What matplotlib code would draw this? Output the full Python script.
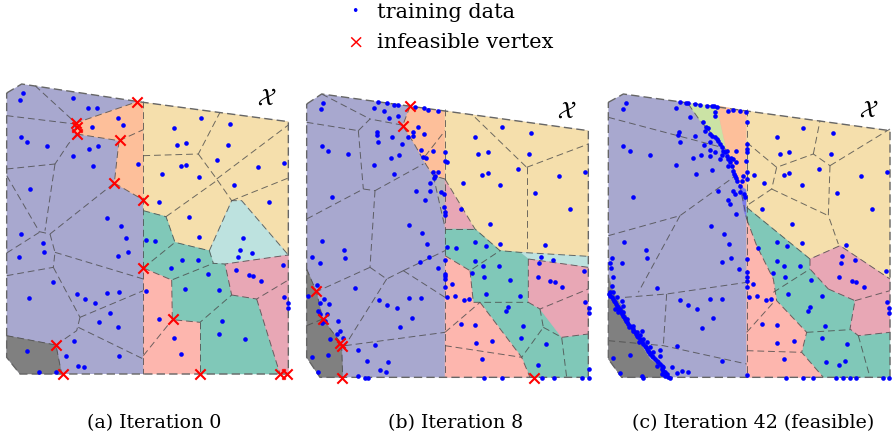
import numpy as np
import matplotlib.pyplot as plt
from matplotlib.patches import Polygon

plt.rcParams['font.family'] = ['DejaVu Serif']
plt.rcParams['mathtext.fontset'] = 'stix'

# colours of the regions
LAV = '#a8a8cf'
ORA = '#fdbf9a'
YEL = '#f5dfac'
CYA = '#bde2df'
TEA = '#80c8b8'
PNK = '#e8a7b5'
SAL = '#fdb6ae'
GRY = '#808080'
GRN = '#cbe3a5'
LGR = '#b5b5ba'
BLU = '#7b7bec'

# ---------------- panel (a) : iteration 0 ----------------
a_domain = [(20, 42), (65, 15), (430, 70), (865, 128), (865, 885), (60, 885), (20, 835)]
a_orange = [(225, 133), (412, 68), (430, 70), (430, 363), (343, 312), (357, 185), (230, 165)]
a_gray = [(20, 770), (168, 798), (185, 885), (60, 885), (20, 835)]
a_yellow = [(430, 70), (865, 128), (865, 528), (725, 365), (695, 365), (628, 515),
            (525, 490), (498, 413), (430, 395)]
a_cyan = [(695, 365), (725, 365), (865, 528), (675, 555), (640, 553), (628, 515)]
a_teal = [(430, 395), (498, 413), (525, 490), (628, 515), (640, 553), (675, 555), (695, 648),
          (770, 660), (840, 885), (600, 885), (600, 730), (517, 722), (515, 603), (430, 567)]
a_pink = [(675, 555), (865, 528), (865, 885), (840, 885), (770, 660), (695, 648)]
a_salmon = [(430, 567), (515, 603), (517, 722), (600, 730), (600, 885), (430, 885)]
a_lines = [
    [(105, 20), (225, 130)], [(20, 110), (225, 135)],
    [(230, 165), (205, 195), (165, 255)], [(20, 270), (165, 255)], [(165, 255), (135, 455)],
    [(20, 290), (118, 458)], [(118, 458), (150, 465), (343, 312)], [(20, 522), (118, 460)],
    [(150, 465), (165, 520), (160, 565)], [(165, 520), (430, 600)], [(20, 590), (160, 565)],
    [(160, 565), (240, 715)], [(240, 715), (430, 635)], [(240, 715), (230, 755), (168, 798)],
    [(235, 745), (430, 840)], [(20, 770), (168, 798), (185, 885)],
    [(225, 133), (412, 68)], [(230, 165), (357, 185), (343, 312), (430, 363)],
    [(357, 185), (430, 152)], [(225, 133), (230, 165)],
    [(430, 65), (430, 885)],
    [(430, 230), (595, 225), (660, 100)], [(595, 225), (650, 300), (695, 365)],
    [(650, 300), (865, 138)], [(695, 365), (865, 297)], [(498, 413), (650, 305)],
    [(430, 395), (498, 413), (525, 490), (628, 515), (695, 365), (725, 365), (865, 528)],
    [(628, 515), (640, 553), (675, 555), (865, 528)],
    [(430, 567), (525, 490)], [(430, 567), (515, 603), (640, 553)],
    [(515, 603), (517, 722), (600, 730), (695, 648), (675, 555)],
    [(695, 648), (770, 660), (865, 603)], [(770, 660), (840, 885)],
    [(600, 730), (600, 885)], [(430, 830), (517, 722)],
]
a_pts = [(68, 42), (60, 62), (220, 58), (263, 88), (290, 86), (355, 116), (368, 137), (275, 145),
         (62, 173), (80, 188), (140, 200), (267, 210), (293, 202), (220, 232), (278, 260),
         (413, 256), (90, 330), (322, 418), (362, 442), (377, 476), (437, 482), (129, 491),
         (132, 518), (63, 466), (56, 535), (355, 530), (385, 518), (160, 610), (86, 657),
         (232, 645), (255, 660), (285, 672), (322, 642), (358, 640), (437, 637), (330, 702),
         (297, 730), (355, 743), (222, 785), (197, 831), (358, 831), (80, 815), (235, 861),
         (253, 864), (117, 880), (168, 880),
         (522, 146), (602, 117), (690, 136), (532, 198), (559, 193), (685, 199), (543, 262),
         (559, 258), (651, 244), (597, 293), (485, 286), (774, 265), (852, 253), (702, 319),
         (477, 368), (807, 369), (567, 414), (597, 474), (465, 487), (730, 477),
         (719, 513), (755, 523), (714, 533), (545, 542), (594, 542), (512, 566), (625, 585),
         (709, 574), (746, 587), (760, 592), (782, 606), (850, 558), (554, 629), (657, 633),
         (851, 653), (863, 672), (863, 687), (478, 719), (667, 725), (523, 777),
         (658, 764), (734, 780), (542, 826)]
a_cross = [(412, 68), (227, 133), (230, 143), (230, 165), (360, 183), (343, 312), (430, 363),
           (430, 567), (520, 720), (168, 798), (190, 885), (600, 885), (840, 885), (862, 885)]

# ---------------- panel (b) : iteration 8 ----------------
b_domain = [(20, 75), (65, 45), (435, 96), (865, 155), (865, 895), (60, 895), (20, 835)]
b_orange = [(330, 82), (435, 96), (435, 300), (400, 290), (380, 260), (340, 190), (308, 140)]
b_lgray = [(400, 290), (435, 300), (435, 445), (420, 380)]
b_pinkt = [(435, 300), (525, 450), (435, 450)]
b_gray = [(20, 570), (50, 640), (68, 720), (125, 795), (128, 895), (60, 895), (20, 835)]
b_yellow = [(435, 96), (865, 155), (865, 532), (660, 520), (600, 515), (525, 450), (435, 300)]
b_cyan = [(660, 520), (865, 532), (865, 565), (685, 540)]
b_teal = [(435, 450), (525, 450), (600, 515), (660, 520), (685, 540), (685, 670), (720, 690),
          (785, 775), (865, 765), (865, 895), (690, 895), (665, 835), (540, 670), (520, 670),
          (510, 575), (435, 530)]
b_pink = [(685, 540), (865, 565), (865, 765), (785, 775), (720, 690), (685, 670)]
b_salmon = [(435, 530), (510, 575), (520, 670), (540, 670), (665, 835), (690, 895), (435, 895)]
b_lines = [
    [(65, 45), (210, 120)], [(20, 130), (175, 155)], [(175, 155), (210, 120), (305, 138)],
    [(175, 155), (190, 330)], [(20, 420), (190, 330), (225, 335)], [(225, 335), (370, 255)],
    [(225, 335), (210, 565)], [(45, 640), (210, 565)], [(210, 565), (260, 600), (310, 575)],
    [(310, 575), (435, 655)], [(310, 575), (435, 515)], [(260, 600), (135, 800)],
    [(135, 800), (435, 760)], [(20, 740), (68, 720)], [(125, 795), (128, 895)],
    [(330, 82), (308, 140), (340, 190), (380, 260), (400, 290), (435, 300)],
    [(375, 232), (435, 155)], [(400, 290), (420, 380), (435, 445)],
    [(20, 570), (50, 640), (68, 720), (125, 795)],
    [(435, 90), (435, 895)],
    [(525, 115), (680, 265)], [(680, 265), (865, 195)], [(680, 265), (680, 515)],
    [(435, 300), (525, 450), (600, 515), (660, 520), (865, 532)],
    [(685, 540), (865, 565)], [(435, 450), (525, 450)],
    [(435, 530), (510, 575), (600, 515)], [(510, 575), (520, 670), (540, 670), (685, 670)],
    [(685, 540), (685, 670), (720, 690), (865, 630)], [(720, 690), (730, 745), (665, 835)],
    [(730, 745), (785, 775), (800, 895)], [(785, 775), (865, 765)],
    [(540, 670), (665, 835), (690, 895)], [(435, 800), (665, 835)], [(435, 760), (540, 670)],
]
b_pts = [(70, 72), (63, 90), (233, 68), (260, 73), (282, 77), (293, 78), (222, 88), (253, 97),
         (267, 117), (293, 112), (345, 85), (372, 88), (385, 92), (415, 97), (232, 160),
         (230, 167), (276, 174), (235, 190), (305, 195), (325, 175), (338, 158), (355, 143),
         (372, 165), (340, 172), (65, 200), (85, 215), (145, 226), (272, 237), (297, 227),
         (222, 257), (282, 285), (362, 212), (370, 233), (377, 238), (400, 215), (398, 280),
         (405, 292), (415, 280), (402, 298), (390, 313), (347, 335), (375, 362), (390, 335),
         (423, 340), (433, 345), (433, 385), (435, 400), (435, 408), (95, 353), (328, 438),
         (365, 463), (380, 495), (67, 487), (132, 512), (136, 537), (37, 535), (60, 553),
         (360, 548), (388, 535), (413, 568), (435, 543), (435, 585), (165, 628), (25, 652),
         (50, 618), (72, 660), (60, 673), (88, 675), (55, 695), (60, 705), (82, 705), (75, 725),
         (65, 733), (115, 725), (237, 662), (260, 677), (290, 688), (328, 658), (364, 658),
         (335, 718), (300, 745), (110, 765), (120, 755), (90, 780), (128, 778), (225, 798),
         (175, 812), (35, 835), (85, 828), (200, 845), (265, 850), (240, 873), (258, 878),
         (55, 880), (175, 892), (195, 897), (205, 897),
         (525, 173), (606, 144), (693, 162), (535, 225), (563, 219), (688, 225), (655, 269),
         (547, 287), (563, 283), (600, 318), (489, 311), (434, 220), (434, 245), (442, 250),
         (777, 290), (856, 278), (706, 343), (810, 391), (482, 390), (570, 436), (525, 488),
         (557, 502), (600, 494), (734, 497), (442, 503), (469, 506), (722, 533), (760, 543),
         (717, 551), (525, 547), (548, 560), (598, 560), (515, 583), (551, 593), (629, 603),
         (713, 593), (750, 605), (764, 609), (786, 624), (853, 576), (434, 590), (434, 600),
         (455, 616), (434, 625), (442, 655), (466, 650), (493, 663), (507, 661), (558, 646),
         (660, 650), (855, 668), (867, 688), (867, 702), (625, 685), (618, 697), (483, 735),
         (525, 737), (670, 742), (662, 777), (737, 795), (527, 791), (577, 786), (546, 839),
         (713, 858), (867, 870), (553, 897), (605, 897), (726, 897), (762, 897), (846, 897),
         (867, 897)]
b_cross = [(330, 82), (308, 142), (48, 637), (68, 720), (120, 792), (125, 800), (125, 897),
           (703, 897)]

# ---------------- panel (c) : iteration 42 ----------------
c_domain = [(25, 70), (70, 45), (440, 96), (870, 155), (870, 895), (65, 895), (25, 840)]
c_green = [(265, 75), (350, 80), (380, 215), (345, 175), (300, 125)]
c_orange = [(350, 80), (440, 96), (440, 330), (420, 320), (380, 215)]
c_blue = [(420, 320), (440, 335), (440, 420), (432, 395)]
c_gray = [(25, 590), (40, 640), (75, 700), (100, 760), (150, 840), (190, 870), (210, 895),
          (65, 895), (25, 840)]
c_yellow = [(440, 96), (870, 155), (870, 600), (720, 500), (630, 540), (440, 385)]
c_teal = [(440, 385), (630, 540), (630, 570), (685, 630), (765, 665), (750, 750), (775, 770),
          (870, 760), (870, 895), (670, 895), (605, 820), (620, 760), (530, 665), (520, 600),
          (470, 500), (440, 420)]
c_pink = [(630, 540), (720, 500), (870, 600), (870, 760), (775, 770), (750, 750), (765, 665),
          (685, 630), (630, 570)]
c_salmon = [(440, 420), (470, 500), (520, 600), (530, 665), (620, 760), (605, 820), (670, 895),
            (440, 895)]
c_lines = [
    [(25, 115), (365, 205)], [(25, 470), (240, 410), (400, 295)], [(240, 410), (115, 640)],
    [(75, 655), (200, 645), (440, 610)], [(200, 645), (190, 800)],
    [(25, 785), (190, 800), (440, 855)],
    [(265, 75), (300, 125), (345, 175), (380, 215), (420, 320), (440, 420)],
    [(440, 90), (440, 895)],
    [(440, 190), (530, 265), (640, 225), (690, 260)], [(530, 265), (515, 330), (440, 380)],
    [(515, 330), (685, 410)], [(640, 225), (660, 125)], [(690, 260), (870, 150)],
    [(690, 260), (685, 410), (715, 495)],
    [(440, 385), (630, 540), (720, 500), (870, 600)], [(630, 540), (630, 570), (685, 630)],
    [(765, 665), (870, 635)], [(685, 630), (765, 665), (750, 750), (775, 770), (870, 760)],
    [(520, 640), (630, 570)], [(440, 420), (470, 500), (520, 600), (530, 665), (620, 760),
                               (605, 820), (670, 895)],
    [(620, 760), (750, 752)], [(775, 770), (810, 895)],
    [(440, 760), (525, 665)], [(440, 815), (605, 820)],
]
c_pts = [(78, 72), (70, 90), (240, 70), (258, 72), (263, 72), (285, 75), (300, 77), (320, 80),
         (335, 82), (342, 82), (350, 85), (228, 88), (270, 115), (237, 160), (235, 167),
         (240, 190), (285, 172), (345, 100), (345, 110), (310, 130), (318, 145), (325, 148),
         (315, 155), (330, 165), (337, 170), (345, 175), (350, 180), (355, 185), (360, 195),
         (365, 205), (370, 215), (375, 220), (380, 230), (385, 240), (390, 250), (395, 262),
         (400, 275), (403, 285), (405, 292), (408, 298), (412, 305), (330, 190), (312, 198),
         (330, 213), (345, 220), (278, 237), (302, 228), (330, 230), (360, 240), (365, 228),
         (380, 215), (392, 237), (383, 262), (400, 240), (407, 250), (337, 272), (287, 285),
         (228, 257), (70, 200), (90, 215), (150, 227), (100, 354), (353, 335), (385, 362),
         (390, 375), (408, 405), (398, 335), (405, 345), (420, 340), (432, 345), (435, 355),
         (420, 320), (425, 305), (430, 290), (440, 300), (440, 280), (437, 246), (440, 218),
         (440, 210), (440, 195), (385, 95), (398, 92), (420, 96), (438, 98), (440, 130),
         (408, 215), (333, 440), (372, 464), (387, 496), (71, 488), (138, 512), (142, 538),
         (35, 538), (30, 552), (65, 553), (33, 568), (40, 595), (365, 549), (392, 538),
         (418, 570), (440, 540), (440, 580), (440, 595), (440, 605), (440, 625), (170, 628),
         (240, 662), (265, 677), (292, 689), (330, 660), (367, 660), (340, 718), (305, 746),
         (230, 800), (180, 813), (38, 837), (90, 828), (180, 832), (215, 863), (265, 878),
         (245, 875), (232, 882), (60, 882), (125, 890), (130, 897), (185, 885), (195, 890),
         (205, 893), (210, 897), (367, 845), (440, 888),
         (28, 645), (30, 650), (35, 655), (40, 660), (42, 665), (45, 670), (48, 675), (50, 680),
         (55, 685), (55, 690), (60, 695), (62, 700), (65, 705), (70, 710), (72, 715), (75, 720),
         (78, 725), (82, 730), (85, 735), (90, 740), (95, 745), (98, 750), (100, 755),
         (105, 760), (108, 765), (110, 770), (115, 775), (120, 780), (122, 785), (125, 790),
         (130, 795), (135, 800), (138, 805), (140, 810), (145, 815), (148, 820), (150, 825),
         (155, 830), (160, 835), (165, 840), (170, 845), (175, 850), (180, 855), (185, 860),
         (190, 865), (185, 870), (190, 875), (195, 880), (200, 885), (60, 690), (70, 700),
         (80, 720), (88, 745), (100, 742), (112, 760), (120, 768), (125, 755), (130, 780),
         (118, 790), (140, 790), (150, 805), (160, 820), (170, 860), (35, 620), (40, 640),
         (50, 655), (65, 665), (70, 680), (45, 690), (55, 700), (30, 640),
         (610, 146), (698, 162), (530, 173), (540, 224), (568, 219), (693, 226), (658, 269),
         (552, 287), (568, 283), (605, 317), (493, 311), (463, 289), (782, 290), (860, 278),
         (710, 342), (815, 391), (486, 390), (575, 436), (530, 488), (562, 501), (605, 493),
         (738, 497), (473, 506), (727, 532), (765, 543), (722, 552), (532, 547), (553, 560),
         (600, 560), (520, 583), (555, 593), (634, 603), (718, 593), (755, 605), (768, 609),
         (791, 624), (858, 576), (460, 616), (447, 655), (471, 650), (498, 663), (512, 661),
         (563, 646), (665, 650), (860, 668), (868, 688), (868, 702), (630, 685), (623, 697),
         (487, 735), (530, 737), (675, 741), (667, 777), (742, 795), (532, 791), (582, 786),
         (551, 839), (718, 858), (735, 845), (677, 849), (557, 897), (609, 897), (638, 897),
         (708, 897), (730, 897), (750, 897), (768, 897), (850, 897), (868, 897)]

panels = [
    dict(left=0, width=300, domain=a_domain,
         fills=[(a_orange, ORA), (a_gray, GRY), (a_yellow, YEL), (a_cyan, CYA),
                (a_teal, TEA), (a_pink, PNK), (a_salmon, SAL)],
         lines=a_lines, pts=a_pts, cross=a_cross, lab=(800, 55)),
    dict(left=300, width=300, domain=b_domain,
         fills=[(b_orange, ORA), (b_lgray, LGR), (b_pinkt, PNK), (b_gray, GRY), (b_yellow, YEL),
                (b_cyan, CYA), (b_teal, TEA), (b_pink, PNK), (b_salmon, SAL)],
         lines=b_lines, pts=b_pts, cross=b_cross, lab=(800, 95)),
    dict(left=600, width=292, domain=c_domain,
         fills=[(c_green, GRN), (c_orange, ORA), (c_blue, BLU), (c_gray, GRY), (c_yellow, YEL),
                (c_teal, TEA), (c_pink, PNK), (c_salmon, SAL)],
         lines=c_lines, pts=c_pts, cross=[], lab=(805, 90)),
]

W, H = 892, 439
fig = plt.figure(figsize=(W / 100, H / 100), dpi=100)

for p in panels:
    ax = fig.add_axes([p['left'] / W, 1 - 390 / H, p['width'] / W, 310 / H])
    ax.set_xlim(0, 3 * p['width'])
    ax.set_ylim(930, 0)
    ax.axis('off')
    ax.add_patch(Polygon(p['domain'], closed=True, fc=LAV, ec='none', zorder=1))
    for verts, col in p['fills']:
        ax.add_patch(Polygon(verts, closed=True, fc=col, ec=col, lw=0.3, zorder=2))
    for seg in p['lines']:
        s = np.array(seg)
        ax.plot(s[:, 0], s[:, 1], color='#4a4a4a', lw=0.7, dashes=(7, 4), alpha=0.8, zorder=3)
    d = np.array(p['domain'] + [p['domain'][0]])
    ax.plot(d[:, 0], d[:, 1], color='#666666', lw=1.0, dashes=(6, 3), zorder=4)
    pts = np.array(p['pts'])
    ax.scatter(pts[:, 0], pts[:, 1], s=11, color='#0000ff', lw=0, zorder=5, clip_on=False)
    if p['cross']:
        cr = np.array(p['cross'])
        ax.scatter(cr[:, 0], cr[:, 1], s=55, marker='x', color='#ff0000', lw=1.5, zorder=6,
                   clip_on=False)
    ax.text(p['lab'][0], p['lab'][1], r'$\mathcal{X}$', fontsize=17, ha='center', va='center',
            zorder=7)

# legend at the top
fig.text(355 / W, 1 - 12 / H, '•', color='#0000ff', fontsize=9, ha='center', va='center')
fig.text(355 / W, 1 - 43 / H, '×', color='#ff0000', fontsize=14, ha='center', va='center')
fig.text(377 / W, 1 - 12 / H, 'training data', fontsize=15, va='center')
fig.text(377 / W, 1 - 43 / H, 'infeasible vertex', fontsize=15, va='center')

captions = ['(a) Iteration 0', '(b) Iteration 8', '(c) Iteration 42 (feasible)']
cap_x = [154, 456, 753]
for cx, c in zip(cap_x, captions):
    fig.text(cx / W, 1 - 423 / H, c, fontsize=13.7, ha='center', va='center')

fig.savefig('out.png', dpi=100)
